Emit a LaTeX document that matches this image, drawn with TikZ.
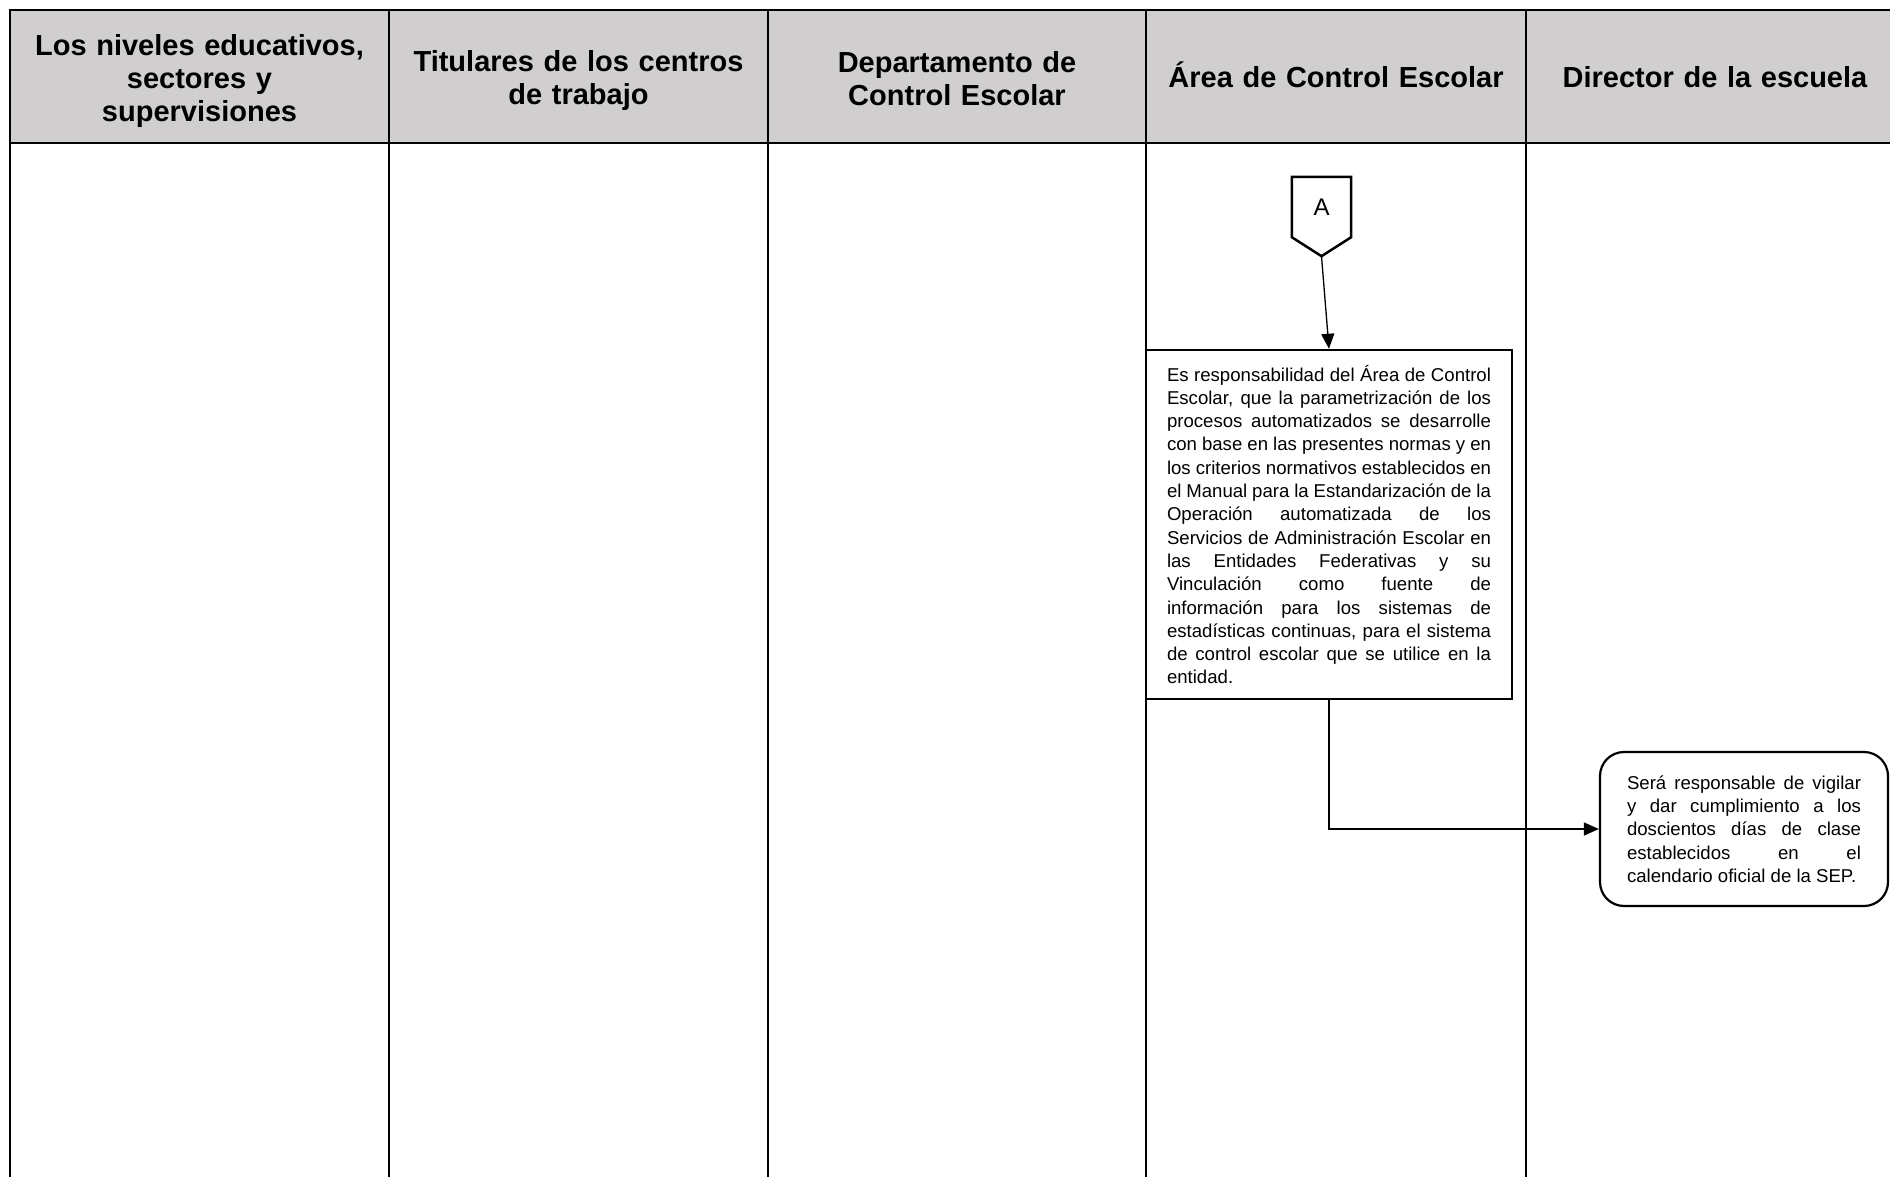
\documentclass[tikz,border=0pt]{standalone}
\usepackage{fontspec}
\setmainfont{Liberation Sans}
\usetikzlibrary{arrows.meta}
\definecolor{hdr}{HTML}{D0CECE}
\begin{document}
\begin{tikzpicture}[x=1pt,y=-1pt,
  hdrtext/.style={font=\fontsize{29}{33}\selectfont\bfseries, align=center, text width=360pt, inner sep=0pt},
  lane/.style={line width=1.8pt},
  hdrline/.style={line width=2.6pt},
  procbox/.style={draw, line width=2.5pt, font=\fontsize{18.6}{23.3}\selectfont, align=justify, inner ysep=8pt},
  roundbox/.style={draw, line width=2.2pt, rounded corners=24pt, font=\fontsize{18.6}{23.3}\selectfont, align=justify, inner ysep=8pt},
  conn/.style={line width=1.3pt, -{Triangle[length=15pt,width=13pt]}},
  shapeline/.style={line width=2.5pt, line join=miter}
]
\useasboundingbox (0,0) rectangle (1890,1177);
\clip (0,0) rectangle (1890,1177);
% header band
\fill[hdr] (10,10) rectangle (1905,143);
\draw[hdrline] (8.7,10) -- (1905,10);
\draw[hdrline] (8.7,143) -- (1905,143);
\foreach \x in {10,389,768,1146,1526} \draw[lane] (\x,10) -- (\x,1190);
% header texts
\node[hdrtext] (h1) at (199.5,80.6) {Los niveles educativos,\\ sectores y\\ supervisiones};
\node[hdrtext] (h2) at (578.5,80.6) {Titulares de los centros\\ de trabajo};
\node[hdrtext] (h3) at (957,78.2) {Departamento de\\ Control Escolar};
\node[hdrtext] (h4) at (1336,74.6) {Área de Control Escolar};
\node[hdrtext] (h5) at (1715,77) {Director de la escuela};
% off-page connector A
\node[inner sep=0pt, minimum width=59pt, minimum height=79pt] (A) at (1321.5,216.5) {};
\draw[shapeline] (A.north west) -- (A.north east) -- ([yshift=19pt]A.south east) -- (A.south) -- ([yshift=19pt]A.south west) -- cycle;
\node[font=\fontsize{24}{28}\selectfont, inner sep=0pt] (Atext) at ([yshift=-30pt]A.north) {A};
% process box
\node[procbox, text width=324pt, inner xsep=21pt, minimum height=349pt] (b1) at (1329,524.5) {Es responsabilidad del Área de Control\linebreak Escolar, que la parametrización de los\linebreak procesos automatizados se desarrolle\linebreak con base en las presentes normas y en\linebreak los criterios normativos establecidos en\linebreak el Manual para la Estandarización de la\linebreak Operación automatizada de los\linebreak Servicios de Administración Escolar en\linebreak las Entidades Federativas y su\linebreak Vinculación como fuente de\linebreak información para los sistemas de\linebreak estadísticas continuas, para el sistema\linebreak de control escolar que se utilice en la\linebreak entidad.};
% rounded box
\node[roundbox, text width=234pt, inner xsep=27pt, minimum height=154pt] (b2) at (1744,829) {Será responsable de vigilar\linebreak y dar cumplimiento a los\linebreak doscientos días de clase\linebreak establecidos en el\linebreak calendario oficial de la SEP.};
% connectors
\draw[conn] (A.south) -- (b1.north);
\draw[conn] (b1.south) |- (b2.west);
\end{tikzpicture}
\end{document}
